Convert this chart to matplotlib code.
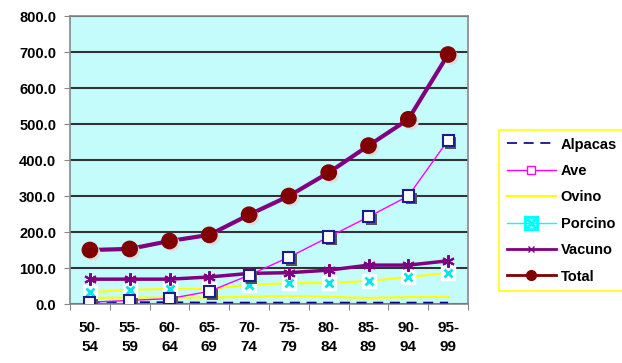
import matplotlib
matplotlib.use("Agg")
import matplotlib.pyplot as plt
import matplotlib.patheffects as pe
from matplotlib.lines import Line2D
from matplotlib import font_manager

categories = ["50-\n54", "55-\n59", "60-\n64", "65-\n69", "70-\n74",
              "75-\n79", "80-\n84", "85-\n89", "90-\n94", "95-\n99"]
alpacas = [6, 5, 5, 4, 4, 4, 4, 4, 4, 4]
ave = [5, 10, 15, 35, 80, 130, 186, 242, 300, 455]
ovino = [17, 18, 18, 18, 20, 22, 20, 17, 19, 20]
porcino = [33, 39, 42, 42, 53, 58, 58, 64, 75, 86]
vacuno = [69, 69, 69, 75, 85, 87, 94, 108, 108, 120]
total = [150, 153, 175, 192, 248, 300, 365, 440, 513, 693]
yticks = [0, 100, 200, 300, 400, 500, 600, 700, 800]

plt.rcParams['font.family'] = ['Liberation Sans', 'DejaVu Sans']

fig = plt.figure(figsize=(6.22, 3.63), dpi=100)
ax = fig.add_axes([70/622, 1-304/363, 398/622, 288/363])
ax.set_facecolor('#c4fcfc')
x = list(range(len(categories)))

ax.plot(x, alpacas, color='#000080', lw=1.2, ls=(0, (6, 4)), zorder=3)
ax.plot(x, ovino, color='#ffff00', lw=1.5, zorder=3)
ax.plot(x, porcino, color='#ffff00', lw=1.5, zorder=3)
ax.plot(x, porcino, ls='none', marker='s', mfc='white', mec='white', ms=10, zorder=4)
ax.plot(x, porcino, ls='none', marker='x', color='#00e5ee', ms=6, mew=2, zorder=5)
ax.plot(x, ave, color='#ff00ff', lw=1, zorder=4)
ax.plot(x, ave, ls='none', marker='s', mfc='white', mec='#1c1c8c', mew=1.5, ms=8, zorder=6,
        path_effects=[pe.SimplePatchShadow(offset=(2, -2), shadow_rgbFace='#555555', alpha=1), pe.Normal()])
ax.plot(x, vacuno, color='#800080', lw=2.5, zorder=5)
ax.plot(x, vacuno, ls='none', marker=(6, 2, 0), color='#800080', ms=9, mew=1.5, zorder=5)
ax.plot(x, total, color='#800080', lw=3, zorder=6)
ax.plot(x, total, ls='none', marker='o', mfc='#800000', mec='#800000', ms=11, zorder=7,
        path_effects=[pe.SimplePatchShadow(offset=(2, -2), shadow_rgbFace='#dddddd', alpha=1), pe.Normal()])

ax.set_xlim(-0.5, 9.5)
ax.set_ylim(0, 800)
ax.set_yticks(yticks)
ax.set_yticklabels([f"{v:.1f}" for v in yticks], fontsize=10.5, fontweight='bold')
ax.yaxis.grid(True, color='#333333', lw=1.5, zorder=1)
ax.set_axisbelow(True)
ax.set_xticks([i - 0.5 for i in range(len(categories) + 1)])
ax.set_xticklabels([])
ax.set_xticks(x, minor=True)
ax.set_xticklabels(categories, minor=True, fontsize=11, fontweight='bold', linespacing=1.5)
ax.tick_params(axis='x', which='minor', length=0, pad=12)
ax.tick_params(axis='x', which='major', length=4, color='#888888', direction='out')
ax.tick_params(axis='y', length=4, color='#888888', pad=6)
for s in ax.spines.values():
    s.set_color('#888888')
    s.set_linewidth(1.2)

handles = [
    Line2D([], [], color='#000080', lw=1.2, ls=(0, (6, 4))),
    Line2D([], [], color='#ff00ff', lw=1, marker='s', mfc='white', mec='#ff00ff', ms=6),
    Line2D([], [], color='#ffff00', lw=1.5),
    Line2D([], [], color='#00ffff', lw=1, marker='$\\boxtimes$', mec='#00ffff', mfc='#00ffff', ms=10),
    Line2D([], [], color='#800080', lw=2, marker='x', mec='#800080', ms=5),
    Line2D([], [], color='#800000', lw=2, marker='o', ms=7),
]
labels = ["Alpacas", "Ave", "Ovino", "Porcino", "Vacuno", "Total"]
leg = fig.legend(handles, labels, loc='upper left', bbox_to_anchor=(492/622, 1-123/363),
                 fontsize=10.5, frameon=True, fancybox=False, edgecolor='#ffff00',
                 handlelength=3.4, labelspacing=0.85, borderpad=0.5, handletextpad=0.3)
leg.get_frame().set_linewidth(1.5)
for t in leg.get_texts():
    t.set_fontweight('bold')

fig.savefig("out.png", dpi=100, facecolor='white')
